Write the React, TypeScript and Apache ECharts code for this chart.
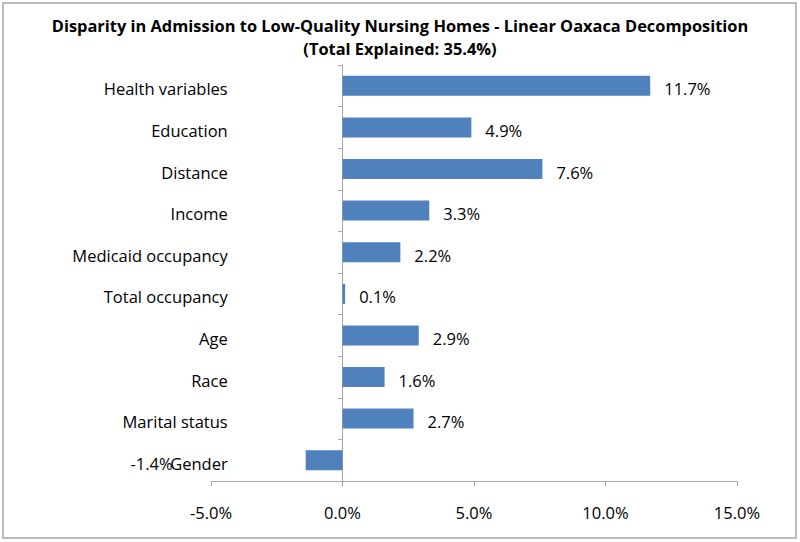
import React, { useEffect, useRef } from "react";
import * as echarts from "echarts";

const categories = [
  "Health variables",
  "Education",
  "Distance",
  "Income",
  "Medicaid occupancy",
  "Total occupancy",
  "Age",
  "Race",
  "Marital status",
  "Gender",
];
const values = [11.7, 4.9, 7.6, 3.3, 2.2, 0.1, 2.9, 1.6, 2.7, -1.4];
const xTicks = { min: -5, max: 15, interval: 5 };
const titleText =
  "Disparity in Admission to Low-Quality Nursing Homes - Linear Oaxaca Decomposition\n(Total Explained: 35.4%)";

const FONT = "Open Sans";
const AXIS_GRAY = "#a6a6a6";

export default function App() {
  const ref = useRef<HTMLDivElement>(null);
  useEffect(() => {
    if (!ref.current) return;
    const chart = echarts.init(ref.current, undefined, { renderer: "svg" });
    chart.setOption({
      animation: false,
      backgroundColor: "#ffffff",
      textStyle: { fontFamily: FONT },
      title: {
        text: titleText,
        left: "center",
        top: 9,
        textStyle: {
          fontFamily: FONT,
          fontWeight: "bold",
          fontSize: 16.4,
          lineHeight: 23,
          color: "#000",
        },
      },
      graphic: [
        {
          type: "rect",
          shape: { x: 3, y: 3, width: 793, height: 535 },
          style: { fill: "none", stroke: AXIS_GRAY, lineWidth: 1.5 },
          silent: true,
        },
      ],
      grid: {
        left: 211,
        right: 63,
        top: 65,
        bottom: 61,
        containLabel: false,
        outerBoundsMode: "none",
      },
      xAxis: {
        type: "value",
        min: xTicks.min,
        max: xTicks.max,
        interval: xTicks.interval,
        axisLine: { show: true, lineStyle: { color: AXIS_GRAY, width: 1 } },
        axisTick: { show: true, length: 5, lineStyle: { color: AXIS_GRAY } },
        splitLine: { show: false },
        axisLabel: {
          margin: 23,
          fontFamily: FONT,
          fontSize: 16.5,
          color: "#000",
          formatter: (v: number) => v.toFixed(1) + "%",
        },
      },
      yAxis: {
        type: "category",
        inverse: true,
        data: categories,
        offset: -131.7,
        axisLine: { show: true, onZero: false, lineStyle: { color: AXIS_GRAY, width: 1 } },
        axisTick: { show: true, length: 5, alignWithLabel: false, lineStyle: { color: AXIS_GRAY } },
        splitLine: { show: false },
        axisLabel: {
          margin: 115,
          fontFamily: FONT,
          fontSize: 16.5,
          color: "#000",
          verticalAlign: "top",
          lineHeight: 6,
        },
      },
      series: [
        {
          type: "bar",
          barWidth: 20,
          data: values.map((v) => ({
            value: v,
            label:
              v < 0
                ? { position: "left", distance: 133 }
                : { position: "right", distance: 14 },
          })),
          itemStyle: { color: "#4f81bd" },
          label: {
            show: true,
            fontFamily: FONT,
            fontSize: 16.5,
            color: "#000",
            offset: [0, 3],
            formatter: (p: any) => Number(p.value).toFixed(1) + "%",
          },
        },
      ],
    });
    return () => chart.dispose();
  }, []);
  return (
    <div
      ref={ref}
      style={{ position: "absolute", left: 0, top: 0, width: 800, height: 542 }}
    />
  );
}
